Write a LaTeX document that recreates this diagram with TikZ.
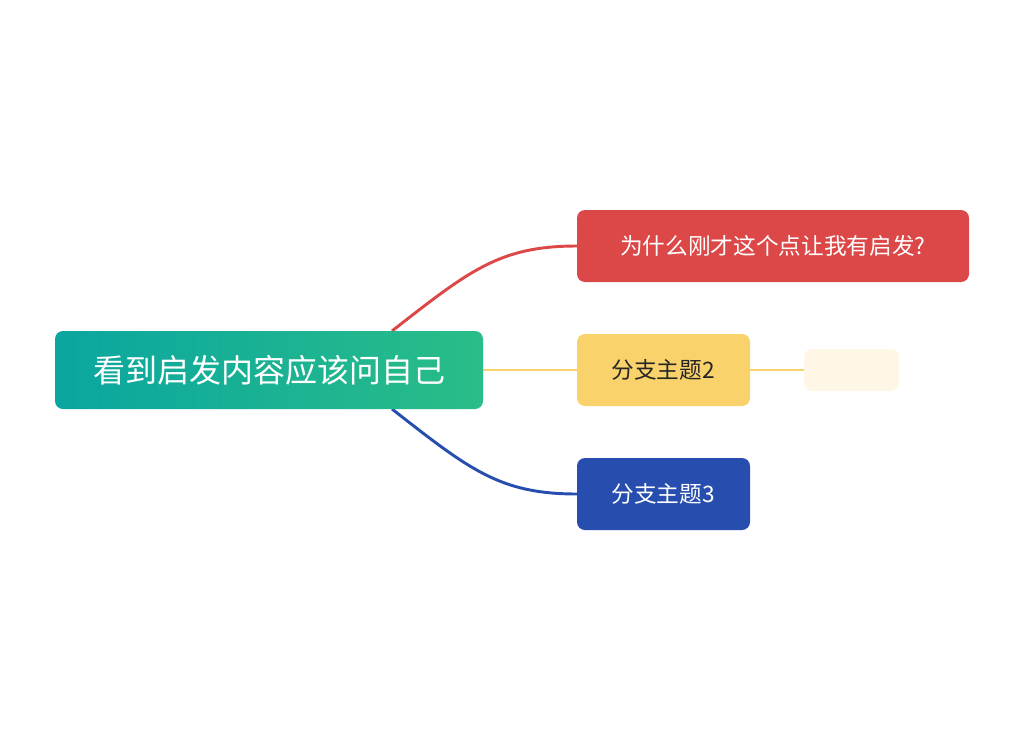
\documentclass[tikz,border=0pt]{standalone}
\usepackage{fontspec}
\newfontfamily\cjk{Noto Sans CJK SC}
\begin{document}
\begin{tikzpicture}[x=0.75pt,y=-0.75pt,
  box/.style={rounded corners=6pt,inner sep=0pt,font=\cjk},
  conn/.style={line width=2.2pt}]
\definecolor{cred}{HTML}{DC4848}
\definecolor{cyel}{HTML}{F9D26B}
\definecolor{cblue}{HTML}{274EAE}
\definecolor{cpale}{HTML}{FEF7E6}
\definecolor{ga}{HTML}{0AA6A0}
\definecolor{gb}{HTML}{2ABD87}
\useasboundingbox (0,0) rectangle (1028,736);
\coordinate (ra) at (392,331);
\coordinate (rb) at (392,409);
\draw[conn,cred] (ra) .. controls (470,270) and (500,246) .. (577,246);
\draw[conn,cblue] (rb) .. controls (470,470) and (500,494) .. (577,494);
\draw[conn,cyel] (483,370) -- (577,370);
\draw[conn,cyel] (750,370) -- (804,370);
\shade[left color=ga,right color=gb,rounded corners=6pt] (55,331) rectangle (483,409);
\node[font=\cjk\fontsize{24}{28}\selectfont,text=white] (root) at (269,370) {看到启发内容应该问自己};
\fill[cred,rounded corners=6pt] (577,210) rectangle (969,282);
\node[font=\cjk\fontsize{17}{20}\selectfont,text=white] (a) at (773,246) {为什么刚才这个点让我有启发?};
\fill[cyel,rounded corners=6pt] (577,334) rectangle (750,406);
\node[font=\cjk\fontsize{17}{20}\selectfont,text=black!85] (b) at (663,370) {分支主题2};
\fill[cblue,rounded corners=6pt] (577,458) rectangle (750,530);
\node[font=\cjk\fontsize{17}{20}\selectfont,text=white] (c) at (663,494) {分支主题3};
\fill[cpale,rounded corners=6pt] (804,349) rectangle (899,391);
\node (d) at (851,370) {};
\end{tikzpicture}
\end{document}
